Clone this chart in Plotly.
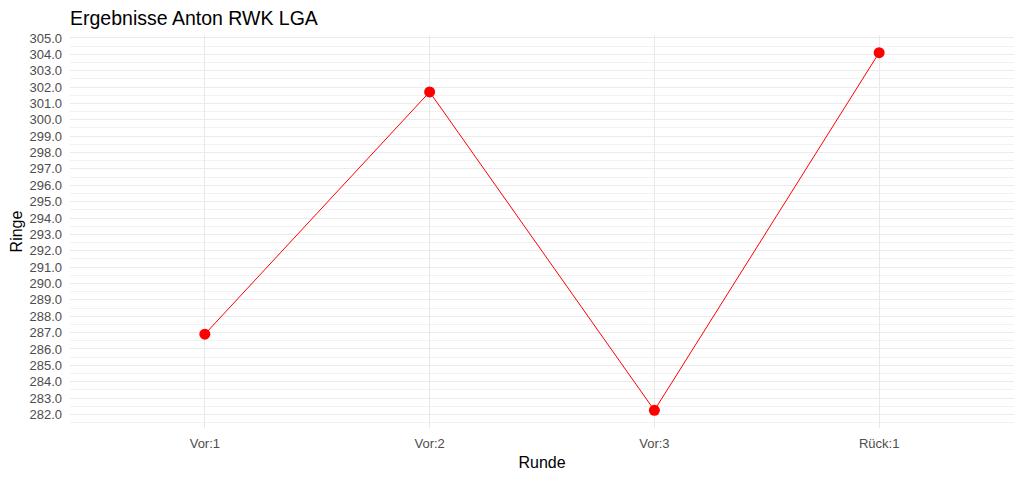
import plotly.graph_objects as go

runden = ["Vor:1", "Vor:2", "Vor:3", "Rück:1"]
ringe = [286.9, 301.7, 282.25, 304.1]

# page body has an 8px margin, so the figure is laid out 8px smaller and offset
W, H = 1016, 470

fig = go.Figure()
fig.add_trace(go.Scatter(
    x=runden, y=ringe, mode="lines+markers",
    line=dict(color="#FF0000", width=1),
    marker=dict(color="#FF0000", size=11),
    showlegend=False,
))

font = "Liberation Sans, Arial, sans-serif"
fig.update_layout(
    width=W, height=H,
    margin=dict(l=62, r=10, t=27, b=50),
    paper_bgcolor="white", plot_bgcolor="white",
    font=dict(family=font, color="#4d4d4d", size=13),
    title=dict(text="Ergebnisse Anton RWK LGA", x=62/W, xanchor="left",
               y=1-10/H, yanchor="middle", xref="container", yref="container",
               font=dict(size=19.5, color="black", family=font)),
)
fig.update_xaxes(
    type="category", range=[-0.6, 3.6], automargin=False,
    showgrid=True, gridcolor="#e8e8e8", gridwidth=1,
    zeroline=False, showline=False, ticks="", ticklabelstandoff=6,
    title=dict(text="Runde", font=dict(size=16, color="black"), standoff=6),
    tickfont=dict(size=13, color="#4d4d4d"),
)
fig.update_yaxes(
    range=[281.17, 305.18], dtick=1, tick0=282, tickformat=".1f", automargin=False,
    showgrid=True, gridcolor="#ebebeb", gridwidth=1,
    minor=dict(dtick=0.5, tick0=282, showgrid=True, gridcolor="#f2f2f2", gridwidth=1),
    zeroline=False, showline=False, ticks="", ticklabelstandoff=7,
    title=dict(text="Ringe", font=dict(size=16, color="black"), standoff=6),
    tickfont=dict(size=13, color="#4d4d4d"),
)
fig.write_html("out.html")
